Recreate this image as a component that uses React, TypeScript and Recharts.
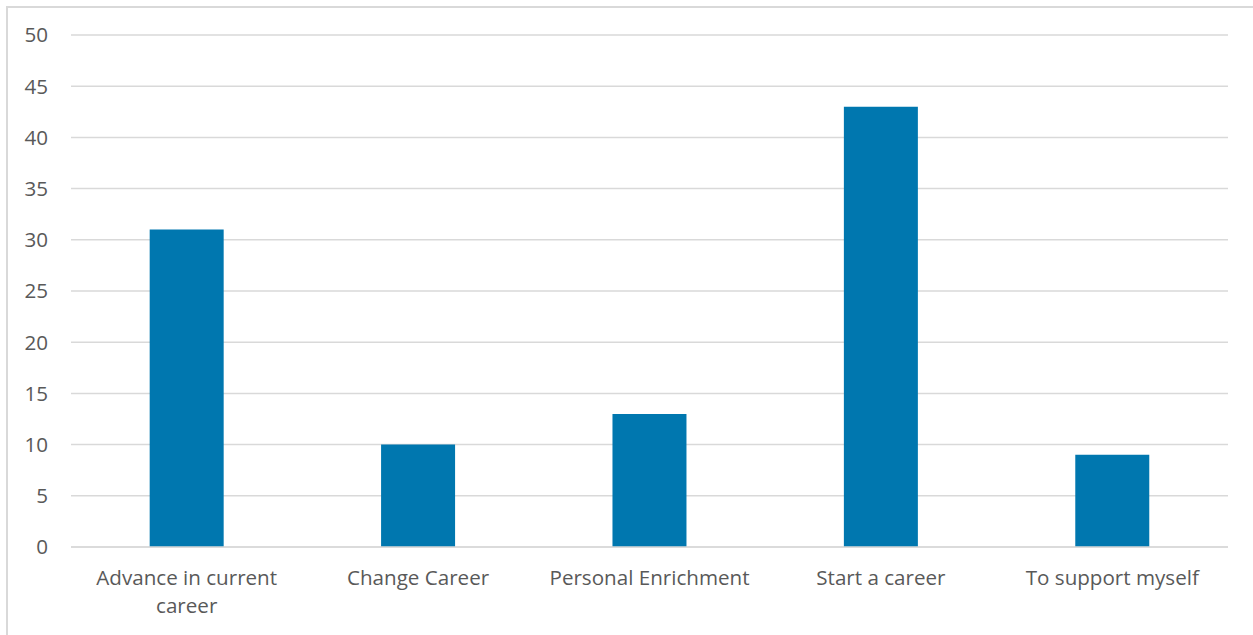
import { BarChart, Bar, XAxis, YAxis, CartesianGrid } from "recharts";

const categories = [
  "Advance in current career",
  "Change Career",
  "Personal Enrichment",
  "Start a career",
  "To support myself",
];
const counts = [31, 10, 13, 43, 9];
const yTicks = [0, 5, 10, 15, 20, 25, 30, 35, 40, 45, 50];

const data = categories.map((name, i) => ({ name, value: counts[i] }));

const FONT = "'Open Sans', 'Noto Sans', sans-serif";
const TEXT = "#595959";
const GRID = "#d9d9d9";

// splits long labels into two lines, like the original chart does
const splitLabel = (label: string) => {
  if (label.length <= 20) return [label];
  const cut = label.lastIndexOf(" ", 18);
  return [label.slice(0, cut), label.slice(cut + 1)];
};

const CategoryTick = (props: any) => {
  const { x, y, payload } = props;
  const lines = splitLabel(payload.value);
  return (
    <text x={x} y={y} textAnchor="middle" fill={TEXT} fontSize={20.6} fontFamily={FONT}>
      {lines.map((line, i) => (
        <tspan key={i} x={x} dy={i === 0 ? 38 : 28}>
          {line}
        </tspan>
      ))}
    </text>
  );
};

const App = () => {
  return (
    <div
      style={{
        position: "absolute",
        left: 0,
        top: 0,
        width: 1253,
        height: 635,
        background: "#fff",
        overflow: "hidden",
      }}
    >
      {/* chart frame, cut off at the right and bottom */}
      <div
        style={{
          position: "absolute",
          left: 6,
          top: 6,
          width: 1300,
          height: 700,
          borderLeft: `2px solid ${GRID}`,
          borderTop: `2px solid ${GRID}`,
        }}
      />
      <div style={{ position: "absolute", left: 0, top: 0 }}>
        <BarChart
          width={1253}
          height={635}
          data={data}
          margin={{ top: 35, right: 25, left: 0, bottom: 0 }}
          barCategoryGap="34%"
        >
          <CartesianGrid vertical={false} stroke={GRID} strokeWidth={1.5} />
          <XAxis
            dataKey="name"
            height={88}
            tick={<CategoryTick />}
            tickLine={false}
            axisLine={{ stroke: GRID, strokeWidth: 1.5 }}
            tickSize={0}
            tickMargin={0}
            interval={0}
          />
          <YAxis
            width={71}
            domain={[0, 50]}
            ticks={yTicks}
            interval={0}
            axisLine={false}
            tickLine={false}
            tickSize={0}
            tickMargin={23}
            tick={{ fill: TEXT, fontSize: 20.6, fontFamily: FONT }}
          />
          <Bar dataKey="value" fill="#0077AF" isAnimationActive={false} />
        </BarChart>
      </div>
    </div>
  );
};

export default App;
